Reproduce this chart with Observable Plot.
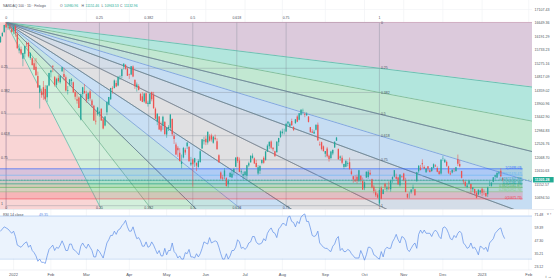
<!DOCTYPE html>
<html><head><meta charset="utf-8">
<script src="https://cdn.jsdelivr.net/npm/d3@7"></script>
<script src="https://cdn.jsdelivr.net/npm/@observablehq/plot@0.6"></script>
<style>
body{margin:0;background:#fff;}
#wrap{position:relative;width:554px;height:280px;overflow:hidden;}
#wrap svg{position:absolute;left:0;}
</style></head><body><div id="wrap"></div>
<script>
// ---------- DATA (daily OHLC, NASDAQ 100) ----------
const dec2021=[[15980,16180,15960,16165],[16180,16330,16170,16290],[16320,16570,16310,16567],[16590,16666,16460,16488],[16490,16560,16400,16491],[16500,16600,16420,16440],[16430,16480,16320,16320]];
const jan2022=[[16380,16560,16240,16501],[16520,16560,16160,16280],[16250,16330,15760,15772],[15700,15920,15600,15766],[15740,15830,15540,15592],[15420,15620,15160,15612],[15590,15860,15460,15850],[15940,16000,15810,15905],[15950,15990,15460,15500],[15440,15640,15380,15612],[15430,15470,15180,15200],[15260,15380,15030,15043],[15140,15440,14840,14855],[14830,14980,14430,14439],[14260,14520,13725,14509],[14300,14400,14090,14190],[14450,14660,14020,14194],[14390,14520,14000,14051],[14110,14510,13940,14506],[14510,14940,14480,14930]];
const feb2022=[[14960,15040,14780,15020],[15180,15190,14960,15143],[14790,14830,14470,14525],[14530,14770,14440,14725],[14760,14860,14600,14652],[14620,14860,14570,14830],[14990,15140,14970,15130],[14900,15110,14680,14795],[14790,14850,14300,14340],[14330,14490,14200,14357],[14530,14720,14480,14719],[14660,14760,14510,14713],[14620,14640,14250,14274],[14290,14350,14030,14125],[14040,14270,13890,13990],[14100,14140,13740,13745],[13350,14230,13320,14210],[14220,14460,14120,14447],[14320,14560,14280,14237]];
const mar2022=[[14220,14330,13920,14006],[14050,14270,13970,14247],[14300,14370,13990,14066],[14000,14050,13760,13838],[13820,13850,13300,13320],[13310,13640,13180,13282],[13530,13780,13480,13757],[13570,13650,13450,13611],[13720,13730,13310,13320],[13360,13420,13020,13047],[13150,13460,13120,13453],[13600,13960,13500,13955],[13860,14120,13830,14117],[14040,14430,14020,14423],[14420,14480,14230,14398],[14420,14710,14410,14678],[14590,14680,14450,14470],[14510,14810,14480,14802],[14820,14850,14700,14830],[14830,15070,14750,15062],[15150,15265,15050,15245],[15210,15230,15040,15076],[15080,15120,14830,14838]];
const apr2022=[[14880,14910,14730,14861],[14880,15170,14860,15165],[15150,15190,14790,14816],[14690,14720,14390,14483],[14460,14610,14300,14543],[14490,14550,14340,14358],[14220,14250,13980,13999],[14140,14280,13940,13950],[13960,14250,13920,14235],[14240,14260,13880,13897],[13880,13990,13790,13918],[13880,14240,13870,14214],[14290,14300,13970,14040],[14180,14290,13710,13740],[13720,13760,13360,13380],[13290,13560,13160,13543],[13450,13470,13000,13015],[13150,13280,12930,12980],[13150,13480,13000,13445],[13270,13300,12840,12854]];
const may2022=[[12840,13080,12730,13060],[13050,13160,12960,13100],[13070,13540,12960,13519],[13370,13390,12790,12854],[12800,12880,12520,12685],[12500,12570,12140,12164],[12390,12450,12080,12304],[12220,12380,11920,11938],[11840,12160,11690,11924],[12060,12420,12030,12387],[12320,12390,12150,12230],[12440,12570,12350,12566],[12420,12450,11920,11929],[11820,12080,11770,11878],[11990,12030,11068,11835],[11890,12050,11740,12037],[11880,11890,11600,11781],[11740,12000,11710,11944],[11910,12320,11880,12269],[12370,12680,12360,12682],[12610,12770,12500,12643]];
const jun2022=[[12700,12800,12480,12582],[12570,12940,12500,12938],[12780,12850,12600,12630],[12810,12870,12600,12671],[12560,12790,12530,12767],[12730,12840,12640,12683],[12610,12710,12330,12337],[12140,12170,11880,11898],[11550,11590,11310,11344],[11380,11470,11270,11340],[11420,11700,11320,11621],[11360,11390,11070,11091],[11150,11320,11040,11265],[11400,11570,11380,11532],[11380,11640,11360,11510],[11570,11710,11470,11672],[11750,12060,11740,12058],[12070,12090,11880,11946],[11960,12060,11560,11573],[11560,11660,11490,11597],[11440,11580,11310,11504]];
const jul2022=[[11470,11590,11370,11584],[11440,11810,11310,11794],[11790,11920,11730,11862],[11900,12140,11880,12115],[12040,12200,12020,12126],[12030,12060,11840,11861],[11870,11980,11720,11739],[11520,11800,11470,11730],[11610,11800,11500,11773],[11870,11990,11830,11978],[12050,12100,11850,11879],[11980,12280,11950,12265],[12260,12510,12250,12462],[12440,12600,12350,12597],[12600,12640,12340,12396],[12390,12410,12270,12338],[12270,12290,12090,12102],[12240,12620,12230,12593],[12580,12730,12450,12723],[12760,12980,12720,12947]];
const aug2022=[[12890,13040,12840,12941],[12880,13040,12840,12880],[12940,13220,12930,13210],[13220,13300,13150,13274],[13130,13260,13090,13207],[13300,13380,13140,13154],[13100,13120,12960,12998],[13230,13370,13200,13357],[13450,13500,13260,13272],[13340,13570,13320,13560],[13510,13700,13490,13685],[13650,13720,13540,13654],[13540,13600,13430,13510],[13500,13600,13470,13546],[13450,13470,13250,13270],[13090,13100,12900,12930],[12940,13020,12890,12900],[12880,13000,12860,12938],[13000,13180,12980,13176],[13170,13250,12640,12642],[12500,12600,12450,12482],[12580,12600,12300,12345],[12440,12470,12270,12273]];
const sep2022=[[12190,12280,12070,12278],[12370,12420,12060,12099],[12120,12160,11920,12013],[12040,12290,12000,12263],[12200,12340,12140,12317],[12400,12610,12390,12594],[12630,12760,12630,12738],[12350,12370,11990,11998],[12050,12130,11950,12094],[12050,12130,11830,11880],[11740,11850,11670,11839],[11750,11960,11730,11946],[11850,11930,11760,11870],[11900,12060,11650,11664],[11590,11670,11460,11500],[11420,11440,11200,11311],[11310,11460,11230,11254],[11410,11480,11170,11271],[11270,11640,11230,11626],[11440,11460,11210,11294],[11260,11380,10960,10971]];
const oct2022=[[11020,11250,10950,11216],[11380,11590,11360,11576],[11400,11630,11340,11573],[11540,11640,11460,11483],[11320,11340,11010,11040],[11070,11120,10840,10918],[10880,10980,10720,10776],[10800,10850,10680,10700],[10500,11040,10440.64,10958],[11030,11080,10640,10660],[10820,10980,10810,10977],[11170,11200,10960,11068],[10980,11100,10910,11033],[11040,11250,10950,11003],[10980,11300,10900,11283],[11320,11420,11200,11395],[11410,11630,11380,11630],[11410,11510,11310,11340],[11380,11410,11130,11150],[11120,11480,11070,11480],[11420,11440,11370,11405]];
const nov2022=[[11520,11540,11250,11290],[11280,11370,10880,10890],[10820,10840,10670,10700],[10850,10880,10670,10850],[10880,10980,10830,10970],[11010,11140,10920,11050],[10980,11000,10770,10780],[11260,11570,11230,11560],[11590,11800,11530,11780],[11720,11810,11620,11640],[11870,12000,11710,11830],[11740,11790,11670,11690],[11560,11710,11540,11680],[11760,11770,11590,11680],[11630,11670,11550,11570],[11600,11730,11570,11730],[11710,11860,11700,11830],[11790,11830,11740,11760],[11700,11760,11560,11580],[11590,11620,11470,11500],[11520,11990,11480,11990]];
const dec2022=[[12020,12120,11940,12030],[11900,12020,11880,11980],[11910,11960,11740,11780],[11760,11780,11500,11540],[11520,11600,11460,11490],[11550,11650,11520,11640],[11600,11700,11580,11590],[11600,11740,11580,11730],[12000,12160,11770,11850],[11840,11980,11730,11760],[11600,11610,11350,11370],[11290,11320,11160,11250],[11240,11260,11060,11100],[11060,11160,11010,11110],[11170,11290,11150,11270],[11160,11170,10830,11000],[10980,11050,10900,11040],[10990,11000,10800,10850],[10860,10920,10671.73,10690],[10800,10990,10780,10960],[10880,10950,10810,10940]];
const jan2023=[[11000,11040,10750,10860],[10920,10980,10790,10910],[10850,10860,10730,10740],[10810,11070,10720,11040],[11100,11260,11090,11110],[11100,11210,11070,11210],[11240,11390,11220,11390],[11410,11480,11310,11460],[11380,11550,11360,11540],[11520,11600,11480,11560],[11610,11690,11400,11420],[11350,11380,11250,11305.28]];
const firstBar = -7; // Dec 22, 2021 (bar 0 = Jan 3, 2022)

// RSI(14) values per bar
const rsiValues=[56,58,60,59,58,56,54,56,51,43,42,41,43,45,46,41,43,38,36,33,28,30,27,27,26,33,39,41,43,38,41,40,43,47,43,38,38,44,44,39,38,36,34,42,45,42,40,44,41,38,32,32,39,37,34,31,38,45,48,52,52,56,53,57,58,61,63,66,60,56,56,60,54,49,50,47,42,42,46,41,42,46,43,39,35,38,33,33,40,34,38,38,45,37,35,31,33,30,30,36,35,39,32,32,31,35,32,35,40,46,45,44,50,45,46,47,46,41,35,30,30,35,30,33,38,38,41,48,46,40,41,39,41,45,46,51,51,46,44,44,45,49,47,54,57,59,55,54,50,58,60,63,63,61,69,70,65,64,60,65,63,69,71,72,65,65,59,52,51,52,56,45,43,41,40,40,38,37,42,44,49,51,38,40,37,37,39,38,35,33,31,31,31,38,34,29,34,41,41,39,34,33,31,30,37,32,39,41,40,40,46,49,53,48,45,51,50,47,39,37,40,43,45,40,53,57,54,57,54,54,54,51,55,57,55,51,49,59,60,58,54,49,48,52,50,54,56,54,45,43,40,41,45,40,41,38,34,42,41,39,41,37,45,47,49,54,56,58,59,53,49.35];

// axis / tick labels
const monthLabels=["2022","Feb","Mar","Apr","May","Jun","Jul","Aug","Sep","Oct","Nov","Dec","2023","Feb"];
const monthBars=[0,20,39,62,82,103,124,144,167,188,209,230,251,276];
const priceTickLabels=["10694.50","11152.57","11610.63","12068.70","12526.76","12984.83","13442.90","13900.96","14359.02","14817.09","15275.16","15733.23","16191.29","16649.36","17107.43"];
const rsiTickLabels=["23.12","35.21","47.30","59.39","71.48"];
const rsiBand=[30,70];
const legendParts=["NASDAQ 100 · 1D · Finlogix","O","10980.96","H","11151.46","L","10963.53","C","11132.96"];

// Fib speed resistance fan (two anchor points) and fib retracement
const fanStart={bar:-4,price:16666.00};
const fanEnd={bar:196,price:10440.64};
const fanLevels=[0,0.25,0.382,0.5,0.618,0.75,1];
const fanLevelText=["0","0.25","0.382","0.5","0.618","0.75","1"];
const retLow=10671.73, retHigh=11693.03, retEndBar=273;
const retLevels=[0,0.236,0.382,0.5,0.618,0.786,1];

// ---------- STYLE ----------
const priceFill=["#dccadc","#b2e6dd","#c2e8d2","#c3e2dc","#c6ddf3","#d4dde8"];
const timeFill=["#f9d5d5","#d3efdc","#c9ebd4","#c5e4e2","#c9dff4","#e0e0e2"];
const rayColor=["#c99fb4","#4aa89b","#5ca982","#66808f","#5b8ad1","#66808f","#76828f"];
const retLine=["#f23645","#81c784","#4caf50","#089981","#26a69a","#64b5f6","#2962ff"];
const retFill=["rgba(242,54,69,0.20)","rgba(129,199,132,0.28)","rgba(76,175,80,0.22)","rgba(8,153,129,0.18)","rgba(41,98,255,0.14)","rgba(41,98,255,0.16)"];
const upColor="#26a69a", downColor="#ef5350";
const font="Liberation Sans, Arial, sans-serif";
const legendX=[3,60,64,81.5,85.5,101.5,104.5,120,124];
const legendColor=["#50535e","#50535e","#22ab94","#50535e","#22ab94","#50535e","#22ab94","#50535e","#22ab94"];

// ---------- DERIVED ----------
const bars=[dec2021,jan2022,feb2022,mar2022,apr2022,may2022,jun2022,jul2022,aug2022,sep2022,oct2022,nov2022,dec2022,jan2023]
  .flat().map((d,k)=>({i:firstBar+k,o:d[0],h:d[1],l:d[2],c:d[3]}));
const upBars=bars.filter(d=>d.c>=d.o), downBars=bars.filter(d=>d.c<d.o);
const last=bars[bars.length-1];
const rsi=rsiValues.map((v,k)=>({i:firstBar+k,v}));
const priceTicks=priceTickLabels.map(Number);
const priceTickMap=new Map(priceTicks.map((v,k)=>[v,priceTickLabels[k]]));
const rsiTicks=rsiTickLabels.map(Number);
const rsiTickMap=new Map(rsiTicks.map((v,k)=>[v,rsiTickLabels[k]]));
const monthMap=new Map(monthBars.map((b,k)=>[b,monthLabels[k]]));
const xDomain=[-7,278];

const i0=fanStart.bar,p0=fanStart.price,dI=fanEnd.bar-fanStart.bar,dP=fanStart.price-fanEnd.price,K=3;
const fanMarks=[];
for(let k=0;k<fanLevels.length-1;k++){
  const a=fanLevels[k],b=fanLevels[k+1];
  fanMarks.push(Plot.areaY([{x:i0,y1:p0,y2:p0},{x:i0+K*dI,y1:p0-K*a*dP,y2:p0-K*b*dP}],
    {x:"x",y1:"y1",y2:"y2",fill:priceFill[k],clip:true}));
  fanMarks.push(Plot.areaX([{y:p0,x1:k===0?-40:i0,x2:i0},{y:p0-K*dP,x1:k===0?-40:i0+K*a*dI,x2:i0+K*b*dI}],
    {y:"y",x1:"x1",x2:"x2",fill:timeFill[k],clip:true}));
}
const fanGridV=fanLevels.map(f=>({x:i0+f*dI}));
const fanGridH=fanLevels.map(f=>({y:p0-f*dP}));
const rays=[];
fanLevels.forEach((f,k)=>{
  rays.push({x2:i0+K*dI,y2:p0-K*f*dP,c:rayColor[k]});
  rays.push({x2:i0+K*f*dI,y2:p0-K*dP,c:rayColor[k]});
});
const rayMarks=rayColor.map((c,k)=>Plot.link(rays.filter(r=>r.c===c),{x1:()=>i0,y1:()=>p0,x2:"x2",y2:"y2",stroke:c,strokeWidth:0.65,clip:true}));

const retData=retLevels.map((r,k)=>({r,p:retLow+r*(retHigh-retLow),k}));
const retBands=retData.slice(0,-1).map((d,k)=>({y1:d.p,y2:retData[k+1].p,k}));

const txt={fontSize:3.5,fill:"#4a4f5c",fontFamily:font};

const main=Plot.plot({
  width:554,height:209,marginLeft:0,marginRight:22,marginTop:0,marginBottom:0,
  x:{domain:xDomain,axis:null},
  y:{domain:[10310.5,17412.3]},
  style:{fontFamily:font,color:"#50535e",background:"#fff",overflow:"hidden"},
  marks:[
    Plot.ruleX(monthBars,{stroke:"#eef0f4",strokeWidth:0.6}),
    Plot.ruleY(priceTicks,{stroke:"#eef0f4",strokeWidth:0.6}),
    ...fanMarks,
    Plot.ruleX(fanGridV,{x:"x",y1:()=>fanEnd.price,y2:()=>p0,stroke:"#7f8794",strokeOpacity:0.6,strokeWidth:0.6}),
    Plot.ruleY(fanGridH,{y:"y",x1:()=>i0,x2:()=>fanEnd.bar,stroke:"#7f8794",strokeOpacity:0.6,strokeWidth:0.6}),
    ...rayMarks,
    ...retBands.map(b=>Plot.rect([b],{x1:()=>-40,x2:()=>retEndBar,y1:"y1",y2:"y2",fill:retFill[b.k],clip:true})),
    ...retData.map(d=>Plot.ruleY([d],{y:"p",x1:()=>-40,x2:()=>retEndBar,stroke:retLine[d.k],strokeWidth:0.6,clip:true})),
    Plot.ruleX(upBars,{x:"i",y1:"l",y2:"h",stroke:upColor,strokeWidth:0.55}),
    Plot.ruleX(downBars,{x:"i",y1:"l",y2:"h",stroke:downColor,strokeWidth:0.55}),
    Plot.ruleX(upBars,{x:"i",y1:"o",y2:"c",stroke:upColor,strokeWidth:1.3}),
    Plot.ruleX(downBars,{x:"i",y1:"o",y2:"c",stroke:downColor,strokeWidth:1.3}),
    Plot.ruleY([last],{y:"c",stroke:"#4f9c90",strokeDasharray:"1.5,1.5",strokeWidth:0.6}),
    // fan labels
    Plot.text(fanLevels,{x:f=>i0+f*dI,y:()=>p0,dy:-5,text:(f,k)=>fanLevelText[k],...txt}),
    Plot.text(fanLevels,{x:f=>i0+f*dI,y:()=>fanEnd.price,dy:1.8,text:(f,k)=>fanLevelText[k],...txt}),
    Plot.text(fanLevels,{x:()=>fanEnd.bar,y:f=>p0-f*dP,dx:1.5,textAnchor:"start",text:(f,k)=>fanLevelText[k],...txt}),
    Plot.text(fanLevels.slice(1),{x:()=>xDomain[0],y:f=>p0-f*dP,dx:0.5,dy:-1.6,textAnchor:"start",text:(f,k)=>fanLevelText[k+1],...txt}),
    // retracement labels
    ...retData.map(d=>Plot.text([d],{x:()=>retEndBar,y:"p",dx:-1.5,dy:-1.3,textAnchor:"end",text:d=>`${d.r}(${d.p.toFixed(2)})`,fontSize:3.1,fill:retLine[d.k],fontFamily:font})),
    // right axis
    Plot.axisY({anchor:"right",ticks:priceTicks,tickFormat:d=>priceTickMap.get(d),tickSize:0,tickPadding:2,fontSize:3.6}),
    Plot.rect([last],{x1:()=>278.5,x2:()=>289.6,y1:d=>d.c-92,y2:d=>d.c+92,fill:"#22ab94"}),
    Plot.text([last],{x:()=>278.5,y:"c",dx:1.3,textAnchor:"start",text:d=>d.c.toFixed(2),fill:"#fff",fontSize:3.6,fontWeight:"bold",fontFamily:font})
  ]
});
main.style.top="0px";
// legend (separate text elements, left-anchored)
{
  const s=d3.select(main);
  legendParts.forEach((p,k)=>s.append("text").attr("x",legendX[k]).attr("y",6.8).attr("font-size",3.4)
    .attr("text-anchor","start").attr("font-family",font).attr("fill",legendColor[k]).text(p));
}

const lower=Plot.plot({
  width:554,height:71,marginLeft:0,marginRight:22,marginTop:0,marginBottom:10,
  x:{domain:xDomain},
  y:{domain:[19.4,76.13]},
  style:{fontFamily:font,color:"#50535e",background:"#fff",overflow:"hidden"},
  marks:[
    Plot.ruleX(monthBars,{stroke:"#eef0f4",strokeWidth:0.6}),
    Plot.rect([rsiBand],{x1:()=>xDomain[0],x2:()=>xDomain[1],y1:d=>d[0],y2:d=>d[1],fill:"#ebf3fd"}),
    Plot.ruleY(rsiBand,{stroke:"#a3c2ee",strokeWidth:0.6}),
    Plot.line(rsi,{x:"i",y:"v",stroke:"#5b8de6",strokeWidth:0.7}),
    Plot.axisX({ticks:monthBars,tickFormat:d=>monthMap.get(d),tickSize:0,tickPadding:3,fontSize:4}),
    Plot.axisY({anchor:"right",ticks:rsiTicks,tickFormat:d=>rsiTickMap.get(d),tickSize:0,tickPadding:2,fontSize:3.5})
  ]
});
lower.style.top="209px";
{
  const s=d3.select(lower);
  s.append("line").attr("x1",0).attr("x2",554).attr("y1",0.3).attr("y2",0.3).attr("stroke","#d6d9e0").attr("stroke-width",0.6);
  s.append("line").attr("x1",0).attr("x2",532).attr("y1",61).attr("y2",61).attr("stroke","#e6e8ee").attr("stroke-width",0.6);
  s.append("text").attr("x",3).attr("y",6.8).attr("font-size",3.6).attr("text-anchor","start").attr("font-family",font).attr("fill","#50535e").text("RSI 14 close");
  s.append("text").attr("x",39).attr("y",6.8).attr("font-size",3.6).attr("text-anchor","start").attr("font-family",font).attr("fill","#5b8de6").text(rsiValues[rsiValues.length-1].toFixed(2));
}
document.getElementById("wrap").append(main,lower);
</script></body></html>
